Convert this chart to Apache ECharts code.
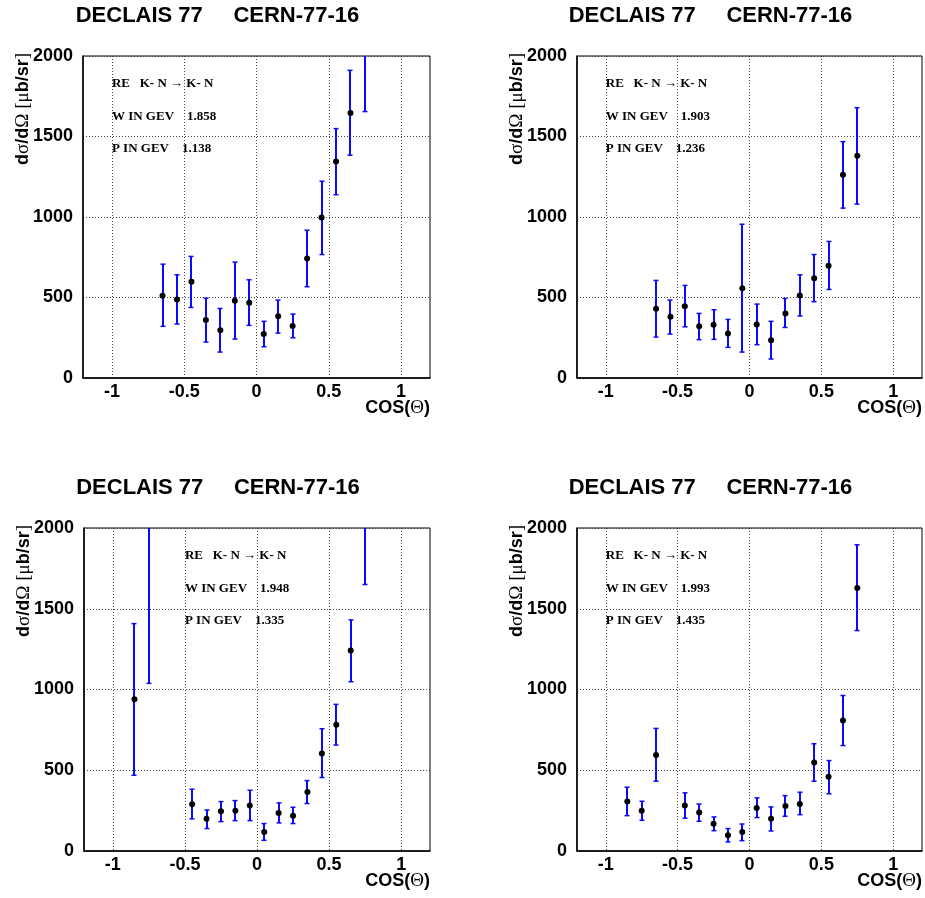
<!DOCTYPE html>
<html>
<head>
<meta charset="utf-8">
<script src="https://cdn.jsdelivr.net/npm/echarts@6/dist/echarts.min.js"></script>
<style>
  html, body { margin: 0; padding: 0; background: #fff; }
  #chart { width: 925px; height: 898px; }
</style>
</head>
<body>
<div id="chart"></div>
<script>
// K- N -> K- N elastic differential cross sections, DECLAIS 77 (CERN-77-16)

// Panel A: W = 1.858 GeV
const cosA   = [-0.65, -0.55, -0.45, -0.35, -0.25, -0.15, -0.05, 0.05, 0.15, 0.25, 0.35, 0.45, 0.55, 0.65, 0.75];
const sigA   = [511, 488, 598, 360, 296, 480, 467, 273, 383, 323, 742, 997, 1344, 1646, 2100];
const loA    = [321, 335, 438, 223, 161, 242, 327, 194, 279, 250, 567, 767, 1138, 1384, 1655];
const hiA    = [707, 641, 755, 496, 432, 720, 610, 352, 484, 397, 918, 1222, 1549, 1911, 2545];

// Panel B: W = 1.903 GeV
const cosB   = [-0.65, -0.55, -0.45, -0.35, -0.25, -0.15, -0.05, 0.05, 0.15, 0.25, 0.35, 0.45, 0.55, 0.65, 0.75];
const sigB   = [430, 381, 445, 321, 331, 277, 558, 333, 234, 401, 513, 620, 697, 1262, 1380];
const loB    = [254, 273, 318, 238, 240, 190, 161, 207, 118, 314, 385, 474, 550, 1055, 1080];
const hiB    = [606, 484, 575, 401, 424, 364, 955, 459, 352, 494, 641, 767, 848, 1468, 1679];

// Panel C: W = 1.948 GeV
const cosC   = [-0.85, -0.75, -0.45, -0.35, -0.25, -0.15, -0.05, 0.05, 0.15, 0.25, 0.35, 0.45, 0.55, 0.65, 0.75];
const sigC   = [939, 2150, 290, 199, 246, 250, 281, 118, 236, 219, 366, 604, 782, 1241, 2100];
const loC    = [469, 1038, 199, 139, 182, 188, 188, 66, 174, 170, 294, 455, 656, 1048, 1650];
const hiC    = [1408, 3262, 383, 254, 306, 312, 376, 170, 298, 271, 436, 757, 908, 1431, 2550];

// Panel D: W = 1.993 GeV
const cosD   = [-0.85, -0.75, -0.65, -0.45, -0.35, -0.25, -0.15, -0.05, 0.05, 0.15, 0.25, 0.35, 0.45, 0.55, 0.65, 0.75];
const sigD   = [306, 250, 594, 281, 238, 168, 97, 118, 267, 199, 279, 291, 548, 459, 808, 1629];
const loD    = [219, 190, 432, 203, 184, 126, 56, 64, 207, 124, 215, 225, 432, 354, 653, 1365];
const hiD    = [395, 308, 759, 360, 291, 211, 139, 167, 329, 273, 343, 364, 664, 560, 963, 1896];

// Kinematics text per panel
const wGeV   = ['1.858', '1.903', '1.948', '1.993'];
const pGeV   = ['1.138', '1.236', '1.335', '1.435'];
const textX  = [-1, -1, -0.5, -1];
const textY  = [1830, 1625, 1425];

const xTicks = [-1, -0.5, 0, 0.5, 1];
const titleText = 'DECLAIS 77     CERN-77-16';

const panels = [
  { cos: cosA, sig: sigA, lo: loA, hi: hiA },
  { cos: cosB, sig: sigB, lo: loB, hi: hiB },
  { cos: cosC, sig: sigC, lo: loC, hi: hiC },
  { cos: cosD, sig: sigD, lo: loD, hi: hiD }
];

// Layout of the 2x2 frames (pixels)
const frames = [
  { left: 83,  top: 56,  width: 347, height: 322 },
  { left: 577, top: 56,  width: 345, height: 322 },
  { left: 84,  top: 528, width: 346, height: 323 },
  { left: 577, top: 528, width: 345, height: 323 }
];

const SANS = 'Liberation Sans, Arial, sans-serif';
const SERIF = 'Liberation Serif, Times New Roman, serif';
const BLUE = '#0a0aff';

function renderErrorBar(params, api) {
  const x = api.value(0), lo = api.value(1), hi = api.value(2);
  const cs = params.coordSys;
  const top = cs.y, bot = cs.y + cs.height;
  const pLo = api.coord([x, lo]);
  const pHi = api.coord([x, hi]);
  const yLo = Math.min(Math.max(pLo[1], top), bot);
  const yHi = Math.min(Math.max(pHi[1], top), bot);
  const cx = Math.round(pLo[0]);
  const style = { stroke: BLUE, lineWidth: 2 };
  const kids = [{ type: 'line', shape: { x1: cx, y1: yLo, x2: cx, y2: yHi }, style: style }];
  const cap = 2.5;
  if (pHi[1] >= top) kids.push({ type: 'line', shape: { x1: cx - cap, y1: yHi, x2: cx + cap, y2: yHi }, style: { stroke: BLUE, lineWidth: 1.5 } });
  if (pLo[1] <= bot) kids.push({ type: 'line', shape: { x1: cx - cap, y1: yLo, x2: cx + cap, y2: yLo }, style: { stroke: BLUE, lineWidth: 1.5 } });
  return { type: 'group', children: kids };
}

function renderInfo(params, api) {
  const p = api.coord([api.value(0), api.value(1)]);
  return {
    type: 'text',
    x: p[0], y: p[1],
    style: {
      text: api.value(2),
      fontFamily: SERIF, fontWeight: 'bold', fontSize: 13,
      fill: '#000', align: 'left', verticalAlign: 'middle'
    }
  };
}

const grid = [], xAxis = [], yAxis = [], series = [], graphic = [];

panels.forEach(function (pn, i) {
  const f = frames[i];
  grid.push({ left: f.left, top: f.top, width: f.width, height: f.height,
    show: true, borderColor: '#000', borderWidth: 1, backgroundColor: 'transparent' });

  xAxis.push({
    gridIndex: i, type: 'value', min: -1.2, max: 1.2,
    axisLine: { show: true, onZero: false, lineStyle: { color: '#000', width: 1.5 } },
    axisTick: { show: false, customValues: xTicks },
    axisLabel: { customValues: xTicks, margin: 5, color: '#000', fontFamily: SANS, fontWeight: 'bold', fontSize: 18,
      formatter: function (v) { return String(v); } },
    splitLine: { show: true, lineStyle: { color: '#444', type: [1, 2], width: 1 } }
  });
  yAxis.push({
    gridIndex: i, type: 'value', min: 0, max: 2000, interval: 500,
    axisLine: { show: true, onZero: false, lineStyle: { color: '#000', width: 1.5 } },
    axisTick: { show: false },
    axisLabel: { margin: 10, color: '#000', fontFamily: SANS, fontWeight: 'bold', fontSize: 18,
      formatter: function (v) { return String(v); } },
    splitLine: { show: true, lineStyle: { color: '#444', type: [1, 2], width: 1 } }
  });

  series.push({
    type: 'custom', xAxisIndex: i, yAxisIndex: i,
    renderItem: renderErrorBar,
    data: pn.cos.map(function (c, k) { return [c, pn.lo[k], pn.hi[k]]; }),
    z: 3
  });
  series.push({
    type: 'scatter', xAxisIndex: i, yAxisIndex: i, clip: true,
    symbol: 'circle', symbolSize: 6,
    itemStyle: { color: '#000', opacity: 1 },
    data: pn.cos.map(function (c, k) { return [c, pn.sig[k]]; }),
    z: 4
  });
  series.push({
    type: 'custom', xAxisIndex: i, yAxisIndex: i,
    renderItem: renderInfo,
    data: [
      [textX[i], textY[0], 'RE   K- N \u2192 K- N'],
      [textX[i], textY[1], 'W IN GEV    ' + wGeV[i]],
      [textX[i], textY[2], 'P IN GEV    ' + pGeV[i]]
    ],
    z: 5
  });

  // panel title
  graphic.push({
    type: 'text', x: f.left + f.width / 2 - 39, y: f.top - 40,
    style: { text: titleText, fontFamily: SANS, fontWeight: 'bold', fontSize: 22,
      fill: '#000', align: 'center', verticalAlign: 'middle' }
  });
  // y-axis title
  graphic.push({
    type: 'text', x: f.left - 60, y: f.top - 3, rotation: Math.PI / 2,
    style: {
      text: '{b|d}{s|\u03c3}{b|/d}{s|\u03a9 [\u03bc}{b|b/sr}{s|]}',
      align: 'right', verticalAlign: 'middle', fill: '#000',
      rich: {
        b: { fontFamily: SANS, fontWeight: 'bold', fontSize: 18, fill: '#000' },
        s: { fontFamily: SERIF, fontWeight: 'normal', fontSize: 19, fill: '#000' }
      }
    }
  });
  // x-axis title
  graphic.push({
    type: 'text', x: f.left + f.width, y: f.top + f.height + 30,
    style: {
      text: '{b|COS(}{s|\u0398}{b|)}',
      align: 'right', verticalAlign: 'middle', fill: '#000',
      rich: {
        b: { fontFamily: SANS, fontWeight: 'bold', fontSize: 18, fill: '#000' },
        s: { fontFamily: SERIF, fontWeight: 'normal', fontSize: 19, fill: '#000' }
      }
    }
  });
});

const chart = echarts.init(document.getElementById('chart'), null, { renderer: 'canvas' });
chart.setOption({
  backgroundColor: '#fff',
  animation: false,
  grid: grid,
  xAxis: xAxis,
  yAxis: yAxis,
  series: series,
  graphic: graphic
});
</script>
</body>
</html>
